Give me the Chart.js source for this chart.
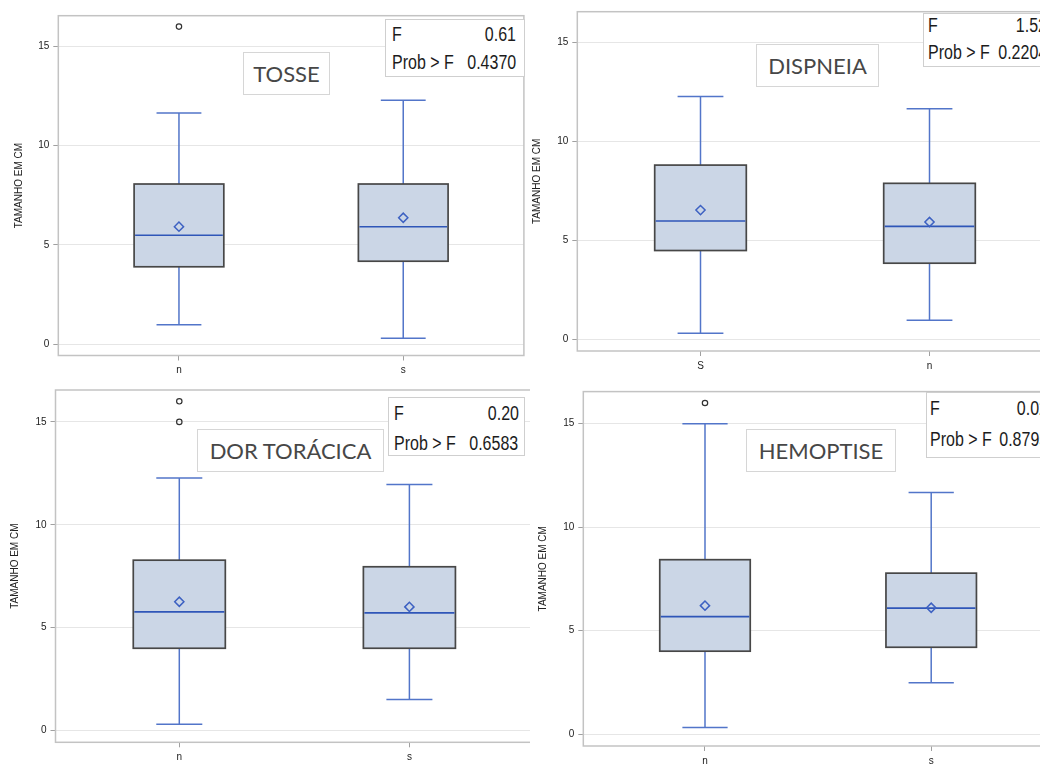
<!DOCTYPE html>
<html>
<head>
<meta charset="utf-8">
<script src="https://cdn.jsdelivr.net/npm/chart.js@4/dist/chart.umd.min.js"></script>
<style>
  html, body { margin: 0; padding: 0; background: #fff; }
  body { width: 1040px; height: 764px; position: relative; overflow: hidden; font-family: "Liberation Sans", Arial, sans-serif; }
  .panel { position: absolute; overflow: hidden; }
  .panel canvas { position: absolute; left: 0; top: 0; }
  .title-box { position: absolute; box-sizing: border-box; border: 1px solid #d6d6d6; background: #fff;
    font-family: Lato, "Open Sans", sans-serif; color: #474747; font-size: 22px;
    display: flex; align-items: center; justify-content: center; white-space: nowrap; }
  .f-box { position: absolute; box-sizing: border-box; background: #fff; border: 1px solid #cfcfcf; }
  .f-row { position: absolute; left: 0; right: 0; height: 24px; line-height: 24px; font-size: 20px; color: #1c1c1c; white-space: nowrap; }
  .f-row .lab { position: absolute; transform: scaleX(0.8); transform-origin: left center; }
  .f-row .val { position: absolute; transform: scaleX(0.8); transform-origin: right center; }
</style>
</head>
<body>
<script>
// Box-plot summaries of tumour size (cm) by symptom group
const panelTitles = ['TOSSE', 'DISPNEIA', 'DOR TORÁCICA', 'HEMOPTISE'];
const groupLabels = [['n', 's'], ['S', 'n'], ['n', 's'], ['n', 's']];
const whiskerLow  = [[0.98, 0.30], [0.32, 0.98], [0.31, 1.51], [0.32, 2.49]];
const quartile1   = [[3.90, 4.18], [4.50, 3.86], [4.00, 4.00], [4.01, 4.20]];
const medians     = [[5.49, 5.92], [5.99, 5.72], [5.77, 5.72], [5.68, 6.09]];
const quartile3   = [[8.07, 8.07], [8.81, 7.89], [8.28, 7.96], [8.43, 7.78]];
const whiskerHigh = [[11.65, 12.29], [12.27, 11.65], [12.27, 11.96], [15.0, 11.67]];
const means       = [[5.92, 6.37], [6.54, 5.94], [6.26, 6.01], [6.21, 6.11]];
const outliers    = [[[16], []], [[], []], [[16, 15], []], [[16], []]];
const fValues     = ['0.61', '1.52', '0.20', '0.02'];
const probValues  = ['0.4370', '0.2204', '0.6583', '0.8795'];
const yTicks      = [0, 5, 10, 15];
const yAxisTitle  = 'TAMANHO EM CM';

// Page layout of each panel (wrapper clip, canvas size, plot-area edges in wrapper coords)
const layout = [
  { left: 0,   top: 0,   w: 530, h: 380, cw: 530, ch: 380, L: 58.3, T: 15.7, R: 524.8, B: 355.5, titlePad: 13 },
  { left: 520, top: 0,   w: 520, h: 380, cw: 545, ch: 380, L: 57.3, T: 11.7, R: 532.7, B: 351.0, titlePad: 11.3 },
  { left: 0,   top: 380, w: 530, h: 384, cw: 545, ch: 384, L: 55.5, T: 10.0, R: 533.2, B: 362.3, titlePad: 9.7 },
  { left: 520, top: 380, w: 520, h: 384, cw: 545, ch: 384, L: 63.3, T: 11.6, R: 532.9, B: 366.0, titlePad: 17.3 }
];
const titleBoxes = [
  { left: 243, top: 52,  w: 87,  h: 43 },
  { left: 756, top: 44,  w: 123, h: 43 },
  { left: 197, top: 429, w: 187, h: 43 },
  { left: 746, top: 429, w: 150, h: 43 }
];
const fBoxes = [
  { left: 385, top: 19.3,  w: 140, h: 57.4, row1: 13.4, row2: 41.4, padL: 5.7, valRight: 517 },
  { left: 923, top: 12.7,  w: 140, h: 54,   row1: 11.3, row2: 38,   padL: 4,   valRight: 1048 },
  { left: 388, top: 397,   w: 137, h: 59,   row1: 15.3, row2: 44.7, padL: 5,   valRight: 519.5 },
  { left: 926, top: 391.7, w: 140, h: 66.6, row1: 15,   row2: 46.6, padL: 2.5, valRight: 1049 }
];

const X_MIN = -0.538, X_MAX = 1.538, Y_MIN = -0.57, Y_MAX = 16.55;
const BOX_HALF = 0.2, CAP_HALF = 0.1;

const boxPlotPlugin = {
  id: 'boxPlot',
  beforeDatasetsDraw(chart, args, opts) {
    const { ctx, chartArea: a, scales: { x, y } } = chart;
    const k = opts.panel;
    ctx.save();
    // plot frame
    ctx.strokeStyle = '#c3c3c3';
    ctx.lineWidth = 1.5;
    ctx.strokeRect(a.left, a.top, a.right - a.left, a.bottom - a.top);
    const line = (x1, y1, x2, y2) => { ctx.beginPath(); ctx.moveTo(x1, y1); ctx.lineTo(x2, y2); ctx.stroke(); };
    groupLabels[k].forEach((_, i) => {
      const cx = x.getPixelForValue(i);
      const bl = x.getPixelForValue(i - BOX_HALF), br = x.getPixelForValue(i + BOX_HALF);
      const cl = x.getPixelForValue(i - CAP_HALF), cr = x.getPixelForValue(i + CAP_HALF);
      const yLo = y.getPixelForValue(whiskerLow[k][i]);
      const yQ1 = y.getPixelForValue(quartile1[k][i]);
      const yMd = y.getPixelForValue(medians[k][i]);
      const yQ3 = y.getPixelForValue(quartile3[k][i]);
      const yHi = y.getPixelForValue(whiskerHigh[k][i]);
      // whiskers and caps
      ctx.strokeStyle = '#5275c9';
      ctx.lineWidth = 1.5;
      line(cx, yQ1, cx, yLo);
      line(cx, yQ3, cx, yHi);
      line(cl, yLo, cr, yLo);
      line(cl, yHi, cr, yHi);
      // interquartile box
      ctx.fillStyle = '#cbd6e6';
      ctx.fillRect(bl, yQ3, br - bl, yQ1 - yQ3);
      ctx.strokeStyle = '#474747';
      ctx.lineWidth = 1.7;
      ctx.strokeRect(bl, yQ3, br - bl, yQ1 - yQ3);
      // median
      ctx.strokeStyle = '#2f56b8';
      ctx.lineWidth = 1.6;
      line(bl + 1, yMd, br - 1, yMd);
    });
    ctx.restore();
  }
};

function buildPanel(k) {
  const lay = layout[k];
  const wrap = document.createElement('div');
  wrap.className = 'panel';
  Object.assign(wrap.style, { left: lay.left + 'px', top: lay.top + 'px', width: lay.w + 'px', height: lay.h + 'px' });
  const canvas = document.createElement('canvas');
  canvas.width = lay.cw; canvas.height = lay.ch;
  canvas.style.width = lay.cw + 'px'; canvas.style.height = lay.ch + 'px';
  wrap.appendChild(canvas);
  document.body.appendChild(wrap);

  const meanPoints = means[k].map((v, i) => ({ x: i, y: v }));
  const outlierPoints = outliers[k].flatMap((vals, i) => vals.map(v => ({ x: i, y: v })));
  const tickFont = { family: '"Liberation Sans", Arial, sans-serif', size: 10 };

  new Chart(canvas, {
    type: 'scatter',
    data: {
      datasets: [
        { label: 'Média', data: meanPoints, pointStyle: 'rectRot', radius: 4.6, borderWidth: 1.5,
          borderColor: '#3d61c2', backgroundColor: 'rgba(0,0,0,0)' },
        { label: 'Outliers', data: outlierPoints, pointStyle: 'circle', radius: 2.7, borderWidth: 1.2,
          borderColor: '#333333', backgroundColor: 'rgba(0,0,0,0)' }
      ]
    },
    options: {
      responsive: false,
      animation: false,
      events: [],
      layout: { padding: { left: 0, top: lay.T, right: lay.cw - lay.R, bottom: 0 } },
      plugins: {
        legend: { display: false },
        tooltip: { enabled: false },
        boxPlot: { panel: k }
      },
      scales: {
        x: {
          type: 'linear', min: X_MIN, max: X_MAX,
          afterBuildTicks: s => { s.ticks = groupLabels[k].map((_, i) => ({ value: i })); },
          afterFit: s => { s.height = lay.ch - lay.B; },
          ticks: { callback: (v, i) => groupLabels[k][i], autoSkip: false, maxRotation: 0, padding: 4,
                   color: '#222', font: tickFont },
          grid: { drawOnChartArea: false, tickLength: 5, tickColor: '#a0a0a0', tickWidth: 1 },
          border: { display: false }
        },
        y: {
          type: 'linear', min: Y_MIN, max: Y_MAX,
          afterBuildTicks: s => { s.ticks = yTicks.map(v => ({ value: v })); },
          afterFit: s => { s.width = lay.L; },
          ticks: { padding: 4, color: '#222', font: tickFont },
          grid: { color: '#e6e6e6', lineWidth: 1, tickLength: 5, tickColor: '#a0a0a0' },
          border: { display: false },
          title: { display: true, text: yAxisTitle, color: '#222', font: tickFont, padding: { top: lay.titlePad, bottom: 0 } }
        }
      }
    },
    plugins: [boxPlotPlugin]
  });
}

function buildOverlays(k) {
  const t = titleBoxes[k];
  const tb = document.createElement('div');
  tb.className = 'title-box';
  Object.assign(tb.style, { left: t.left + 'px', top: t.top + 'px', width: t.w + 'px', height: t.h + 'px' });
  tb.textContent = panelTitles[k];
  document.body.appendChild(tb);

  const f = fBoxes[k];
  const fb = document.createElement('div');
  fb.className = 'f-box';
  Object.assign(fb.style, { left: f.left + 'px', top: f.top + 'px', width: f.w + 'px', height: f.h + 'px' });
  [[f.row1, 'F', fValues[k]], [f.row2, 'Prob > F', probValues[k]]].forEach(([cy, lab, val]) => {
    const row = document.createElement('div');
    row.className = 'f-row';
    row.style.top = (cy - 12) + 'px';
    const l = document.createElement('span');
    l.className = 'lab'; l.style.left = f.padL + 'px'; l.textContent = lab;
    const v = document.createElement('span');
    v.className = 'val'; v.style.right = (f.left + f.w - f.valRight) + 'px'; v.textContent = val;
    row.appendChild(l); row.appendChild(v);
    fb.appendChild(row);
  });
  document.body.appendChild(fb);
}

for (let k = 0; k < 4; k++) buildPanel(k);
for (let k = 0; k < 4; k++) buildOverlays(k);
</script>
</body>
</html>
